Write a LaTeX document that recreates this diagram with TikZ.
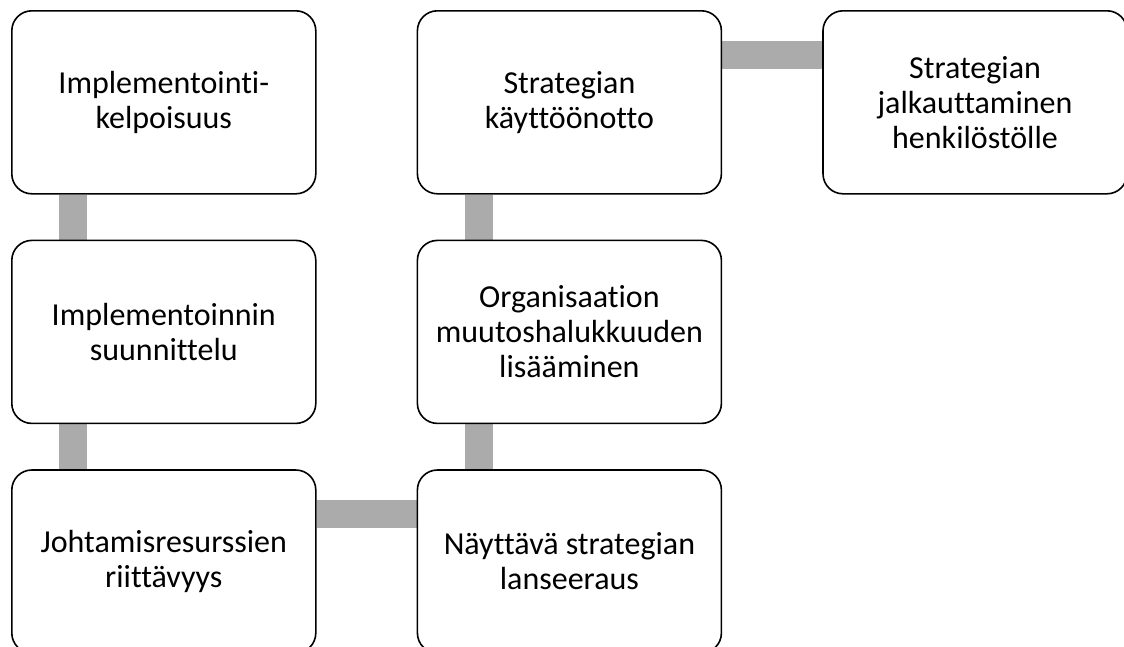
\documentclass[tikz,border=0pt]{standalone}
\usepackage{fontspec}
\setmainfont{Carlito}[Ligatures=NoCommon]
\usetikzlibrary{positioning, calc, backgrounds}
\definecolor{linkgray}{RGB}{171,171,171}
\tikzset{
  step box/.style={
    rectangle, rounded corners=20pt, draw=black, fill=white,
    line width=1.6pt, minimum width=304pt, minimum height=183pt,
    align=center, font=\fontsize{32}{35}\selectfont,
    inner sep=4pt
  },
  step link/.style={
    draw=linkgray, line width=28pt
  }
}

\begin{document}
\begin{tikzpicture}[node distance=45pt and 100pt]
  \useasboundingbox (0,0) rectangle (1124pt,-646pt);
  % Column 1: top -> bottom
  \node (b1) [step box, anchor=north west] at (11pt,-10pt) {Implementointi-\\kelpoisuus};
  \node (b2) [step box, below=of b1] {Implementoinnin\\suunnittelu};
  \node (b3) [step box, below=of b2] {Johtamisresurssien\\riittävyys};
  % Column 2: bottom -> top
  \node (b4) [step box, right=of b3] {Näyttävä strategian\\lanseeraus};
  \node (b5) [step box, above=of b4] {Organisaation\\muutoshalukkuuden\\lisääminen};
  \node (b6) [step box, above=of b5] {Strategian\\käyttöönotto};
  % Column 3
  \node (b7) [step box, right=of b6] {Strategian\\jalkauttaminen\\henkilöstölle};

  \begin{scope}[on background layer]
    \draw [step link] ($(b1.south west)+(62pt,0)$) -- ($(b2.north west)+(62pt,0)$);
    \draw [step link] ($(b2.south west)+(62pt,0)$) -- ($(b3.north west)+(62pt,0)$);
    \draw [step link] ($(b3.north east)+(0,-45pt)$) -- ($(b4.north west)+(0,-45pt)$);
    \draw [step link] ($(b4.north west)+(62pt,0)$) -- ($(b5.south west)+(62pt,0)$);
    \draw [step link] ($(b5.north west)+(62pt,0)$) -- ($(b6.south west)+(62pt,0)$);
    \draw [step link] ($(b6.north east)+(0,-45pt)$) -- ($(b7.north west)+(0,-45pt)$);
  \end{scope}
\end{tikzpicture}
\end{document}
